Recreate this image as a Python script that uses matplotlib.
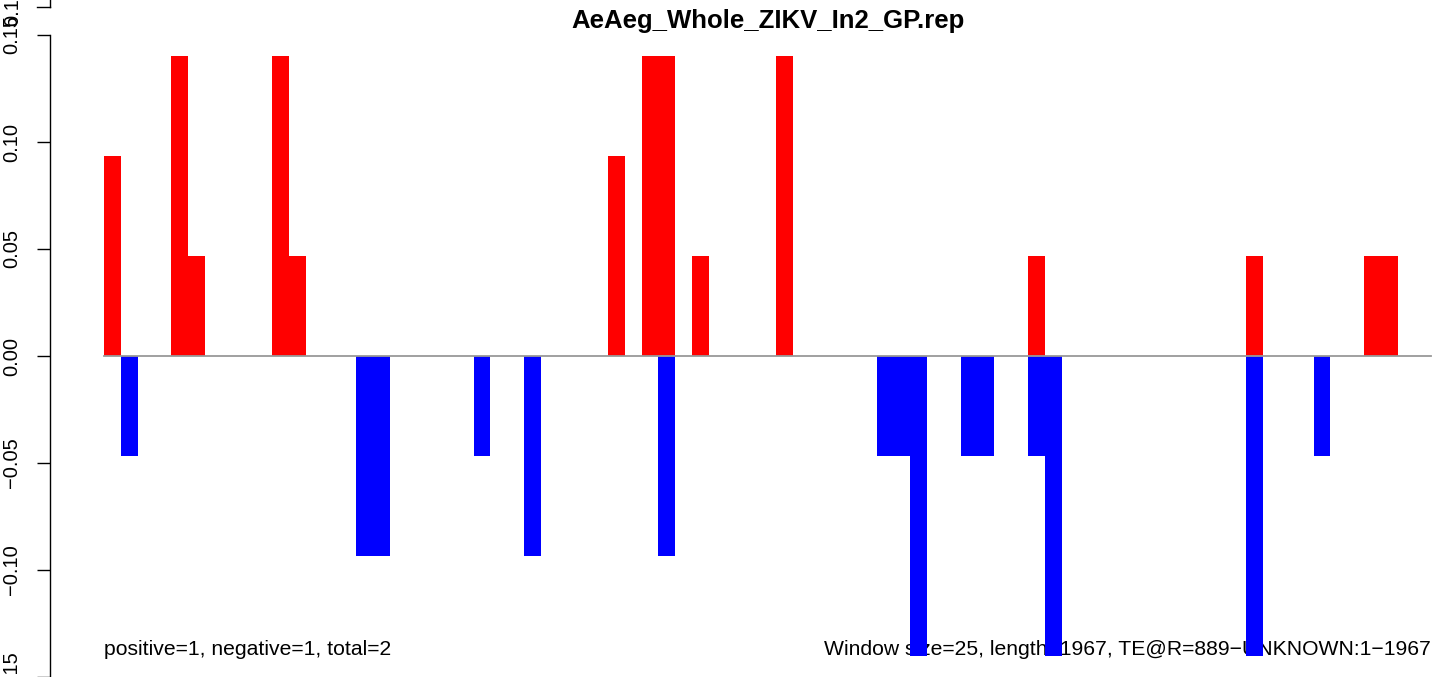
import matplotlib
matplotlib.use("Agg")
import matplotlib.pyplot as plt

plt.rcParams['font.family'] = ['Liberation Sans', 'DejaVu Sans']

# one bin = 25 bp window, 79 bins over length 1967
n_bins = 79
step = 0.0467  # one unit of the window score

# bins with a positive (red) value, and their value
pos_bins = [0, 4, 5, 10, 11, 30, 32, 33, 35, 40, 55, 68, 75, 76]
pos_vals = [2, 3, 1, 3, 1, 2, 3, 3, 1, 3, 1, 1, 1, 1]

# bins with a negative (blue) value
neg_bins = [1, 15, 16, 22, 25, 33, 46, 47, 48, 51, 52, 55, 56, 68, 72]
neg_vals = [1, 2, 2, 1, 2, 2, 1, 1, 3, 1, 1, 1, 3, 3, 1]

yticks = [-0.15, -0.10, -0.05, 0.00, 0.05, 0.10, 0.15]
ytick_labels = ["-0.15", "-0.10", "-0.05", "0.00", "0.05", "0.10", "0.15"]

title = "AeAeg_Whole_ZIKV_In2_GP.rep"
left_note = "positive=1, negative=1, total=2"
right_note = "Window size=25, length=1967, TE@R=889\u2212UNKNOWN:1\u22121967"

W, H = 1444, 677
fig = plt.figure(figsize=(W / 100, H / 100), dpi=100)
ax = fig.add_axes([0, 0, 1, 1])

# pixel layout: bins start at x=104 and are 16.8 px wide, 0.05 = 107 px
bw = 16.8
x0 = 104
ax.set_xlim(-x0 / bw, (W - x0) / bw)
ax.set_ylim(-0.15, 356 / 2140)

ax.bar(pos_bins, [v * step for v in pos_vals], width=1.0,
       align='edge', color='#ff0000', linewidth=0, zorder=3)
ax.bar(neg_bins, [-v * step for v in neg_vals], width=1.0,
       align='edge', color='#0000ff', linewidth=0, zorder=3)
ax.plot([0, n_bins], [0, 0], color='#999999', lw=1.3, zorder=4)

for s in ['top', 'right', 'bottom']:
    ax.spines[s].set_visible(False)
ax.spines['left'].set_position(('data', -(x0 - 50) / bw))
ax.spines['left'].set_bounds(-0.15, 0.15)
ax.spines['left'].set_linewidth(1.0)
ax.set_xticks([])
ax.set_yticks(yticks)
ax.set_yticklabels([t.replace("-", "\u2212") for t in ytick_labels])
ax.tick_params(axis='y', length=9.4, width=1.0, pad=11.5, labelsize=14.5,
               labelrotation=90)
for lab in ax.get_yticklabels():
    lab.set_va('center')

# second axis piece sticking out at the top
top_tick = 349 / 2140
ax.plot([-(x0 - 50) / bw] * 2, [top_tick, 0.2], color='black', lw=1.0,
        clip_on=False)
ax.plot([-(x0 - 37) / bw, -(x0 - 50) / bw], [top_tick, top_tick],
        color='black', lw=1.0, clip_on=False)
ax.text(-(x0 - 13) / bw, top_tick, "0.15", rotation=90, fontsize=14.5,
        ha='center', va='center', clip_on=False)

ax.text(0.5 * n_bins, 0.1565, title, ha='center', va='center',
        fontsize=18.5, fontweight='bold')
ax.text(0, -0.137, left_note, ha='left', va='center', fontsize=15.2, zorder=1)
ax.text(n_bins, -0.137, right_note, ha='right', va='center', fontsize=15.2,
        zorder=1)

fig.savefig("out.png", dpi=100)
